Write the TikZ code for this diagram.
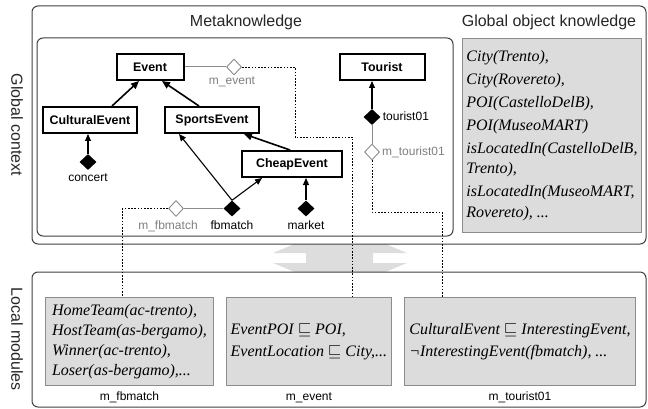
\documentclass[tikz,border=0pt]{standalone}
\usepackage{fontspec}
\setmainfont{Liberation Serif}
\setsansfont{Liberation Sans}
\usepackage{tikz}
\usetikzlibrary{positioning,shapes.geometric,arrows.meta}

\definecolor{boxgray}{HTML}{DCDCDC}
\definecolor{edgegray}{HTML}{8C8C8C}
\definecolor{labelgray}{HTML}{808080}
\definecolor{arrowgray}{HTML}{DDDDDD}

\begin{document}
\begin{tikzpicture}[x=1pt, y=-1pt, font=\sffamily]

    % Define styles
    \tikzstyle{frame} = [draw=black!75, line width=1pt, rounded corners=6pt]
    \tikzstyle{heading} = [font=\fontsize{16}{19}\selectfont\sffamily, text=black!85]
    \tikzstyle{concept} = [rectangle, draw, line width=2pt, fill=white, font=\fontsize{12.4}{14}\selectfont\sffamily\bfseries, minimum height=26pt, inner sep=2pt]
    \tikzstyle{inst} = [diamond, fill=black, minimum width=17pt, minimum height=16pt, inner sep=0pt]
    \tikzstyle{module} = [diamond, draw=edgegray, line width=0.9pt, fill=white, minimum width=15pt, minimum height=16pt, inner sep=0pt]
    \tikzstyle{lbl} = [font=\fontsize{12}{14}\selectfont\sffamily, text height=8.8pt, text depth=2.6pt, inner sep=1pt]
    \tikzstyle{mlbl} = [lbl, text=labelgray]
    \tikzstyle{kb} = [rectangle, draw=edgegray, line width=0.9pt, fill=boxgray, align=left, inner sep=3pt]
    \tikzstyle{isa} = [line width=1.6pt, -{Triangle[length=8pt,width=7pt]}]
    \tikzstyle{inof} = [line width=1.1pt, -{Triangle[length=7pt,width=6pt]}]
    \tikzstyle{link} = [draw=edgegray, line width=1pt]
    \tikzstyle{ref} = [line width=0.8pt, dash pattern=on 1.6pt off 1.6pt]

    \useasboundingbox (0,0) rectangle (648,409);

    % Exchange arrow between the layers
    \fill[arrowgray] (340,225) -- (407,253) -- (373,253) -- (373,263) -- (407,263) -- (340,291)
        -- (273,263) -- (306,263) -- (306,253) -- (273,253) -- cycle;

    % Frames
    \draw[frame, fill=white] (32,6) rectangle (646,244);
    \draw[frame, fill=white] (32,272) rectangle (646,407);
    \draw[frame] (37,38) rectangle (453,236);

    % Titles
    \node[heading] (meta_title) at (246,22) {Metaknowledge};
    \node[heading] (obj_title) at (549,22) {Global object knowledge};
    \node[heading, rotate=-90] (global_title) at (17,125) {Global context};
    \node[heading, rotate=-90] (local_title) at (17,339) {Local modules};

    % Concepts
    \node[concept, minimum width=67pt] (event) at (150,67) {Event};
    \node[concept, minimum width=94pt] (cultural) at (90,120) {CulturalEvent};
    \node[concept, minimum width=94pt, right=26pt of cultural] (sports) {SportsEvent};
    \node[concept, minimum width=100pt] (cheap) at (292,164) {CheapEvent};
    \node[concept, minimum width=85pt] (tourist) at (382,67) {Tourist};

    % Instances
    \node[inst] (concert) at (88,162) {};
    \node[lbl, below=1.5pt of concert] (concert_lbl) {concert};
    \node[inst] (fbmatch) at (232,208.5) {};
    \node[lbl, below=3pt of fbmatch] (fbmatch_lbl) {fbmatch};
    \node[inst] (market) at (306,208.5) {};
    \node[lbl, below=3pt of market] (market_lbl) {market};
    \node[inst] (tourist01) at (372,117) {};
    \node[lbl, right=1pt of tourist01] (tourist01_lbl) {tourist01};

    % Module handles
    \node[module] (m_event) at (234,67) {};
    \node[mlbl, below=-1pt of m_event, xshift=-2pt] (m_event_lbl) {m\_event};
    \node[module] (m_fbmatch) at (176,208.5) {};
    \node[mlbl, below=2.5pt of m_fbmatch, xshift=-8pt] (m_fbmatch_lbl) {m\_fbmatch};
    \node[module] (m_tourist01) at (372,152) {};
    \node[mlbl, right=1pt of m_tourist01] (m_tourist01_lbl) {m\_tourist01};

    % Global object knowledge
    \node[kb, font=\fontsize{16}{20.5}\selectfont\rmfamily\itshape, minimum width=179pt, minimum height=194pt, anchor=north west] (obj_know) at (462,38)
        {City(Trento),\\[2.5pt] City(Rovereto),\\[2.5pt] POI(CastelloDelB),\\[2.5pt] POI(MuseoMART)\\[2.5pt]
         isLocatedIn(CastelloDelB,\\ Trento),\\[2.5pt] isLocatedIn(MuseoMART,\\ Rovereto), ...};

    % Local modules
    \node[kb, font=\fontsize{16}{20}\selectfont\rmfamily\itshape, minimum width=168pt, minimum height=88pt, anchor=north west] (mod_fbmatch) at (45,297)
        {HomeTeam(ac-trento),\\ HostTeam(as-bergamo),\\ Winner(ac-trento),\\ Loser(as-bergamo),...};
    \node[kb, font=\fontsize{16}{22}\selectfont\rmfamily\itshape, minimum width=165pt, minimum height=88pt, anchor=north west] (mod_event) at (226,297)
        {EventPOI $\sqsubseteq$ POI,\\ EventLocation $\sqsubseteq$ City,...};
    \node[kb, font=\fontsize{16}{22}\selectfont\rmfamily\itshape, minimum width=231pt, minimum height=88pt, anchor=north west] (mod_tourist01) at (404,297)
        {CulturalEvent $\sqsubseteq$ InterestingEvent,\\ ¬InterestingEvent(fbmatch), ...};
    \node[lbl, below=5pt of mod_fbmatch] (mod_fbmatch_lbl) {m\_fbmatch};
    \node[lbl, below=5pt of mod_event] (mod_event_lbl) {m\_event};
    \node[lbl, below=5pt of mod_tourist01] (mod_tourist01_lbl) {m\_tourist01};

    % Subclass links
    \draw[isa] ([xshift=22pt]cultural.north) -- ([xshift=-11pt]event.south);
    \draw[isa] ([xshift=-13pt]sports.north) -- ([xshift=12pt]event.south);
    \draw[isa] ([xshift=-2pt]cheap.north) -- ([xshift=32pt]sports.south);

    % Instance links
    \draw[inof] (concert.north) -- (concert.north |- cultural.south);
    \draw[inof] (fbmatch.north) -- ([xshift=-33pt]sports.south);
    \draw[inof] (fbmatch.north) -- ([xshift=-30pt]cheap.south);
    \draw[inof] (market.north) -- (market.north |- cheap.south);
    \draw[inof] (tourist01.north) -- (tourist01.north |- tourist.south);

    % Module links
    \draw[link] (event.east) -- (m_event.west);
    \draw[link] (m_fbmatch.east) -- (fbmatch.west);
    \draw[link] (tourist01.south) -- (m_tourist01.north);

    % References to local modules
    \coordinate (bend_event) at (295,137);
    \coordinate (bend_tourist) at (442,212);
    \draw[ref] (m_event.east) -| (bend_event) -| ([xshift=43.5pt]mod_event.north);
    \draw[ref] (m_fbmatch.west) -| ([xshift=-7pt]mod_fbmatch.north);
    \draw[ref] (m_tourist01.south) |- (bend_tourist) -- (bend_tourist |- mod_tourist01.north);

\end{tikzpicture}
\end{document}
